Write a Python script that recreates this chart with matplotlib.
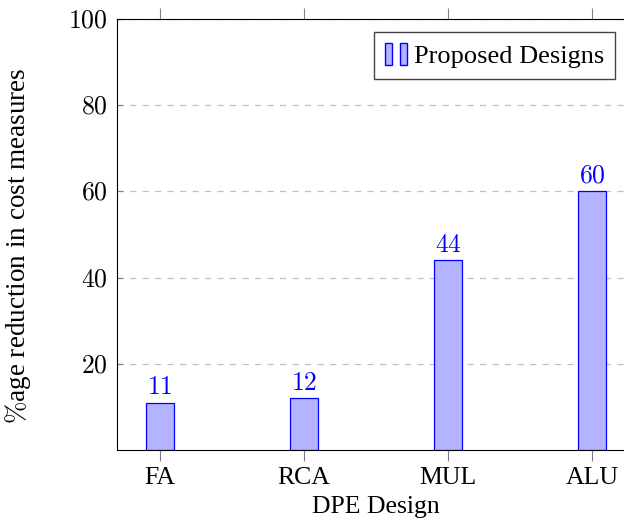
import numpy as np
import matplotlib.pyplot as plt
from matplotlib.patches import Rectangle
from matplotlib.legend_handler import HandlerTuple

designs = ['FA', 'RCA', 'MUL', 'ALU']
reduction = [11, 12, 44, 60]
yticks = [20, 40, 60, 80, 100]

plt.rcParams['font.family'] = ['Liberation Serif', 'DejaVu Serif']
plt.rcParams['mathtext.fontset'] = 'cm'

fs = 18.5
fig = plt.figure(figsize=(6.24, 5.2), dpi=100)
ax = fig.add_axes([0.1875, 0.1346, 0.83, 0.8289])

x = np.arange(len(designs))
fill = '#b3b3ff'
ax.bar(x, reduction, width=0.19, color=fill, edgecolor='blue', linewidth=0.9, zorder=3)
for xi, v in zip(x, reduction):
    ax.text(xi, v + 0.8, f'${v}$', ha='center', va='bottom', color='blue', fontsize=fs)

ax.set_xlim(-0.2986, 3.2986)
ax.set_ylim(0, 100)
ax.set_xticks(x)
ax.set_xticklabels(designs, fontsize=fs)
ax.set_yticks(yticks)
ax.set_yticklabels([f'${t}$' for t in yticks], fontsize=fs)
ax.tick_params(axis='x', direction='out', length=8, color='gray', top=True, pad=4)
ax.tick_params(axis='y', direction='in', length=4, color='gray', right=True, pad=7)
ax.grid(axis='y', color='#c0c0c0', linestyle=(0, (5, 5)), linewidth=0.9, zorder=0)

ax.set_xlabel('DPE Design', fontsize=fs, labelpad=5)
ax.set_ylabel(r'$\%$age reduction in cost measures', fontsize=19.5)
ax.yaxis.set_label_coords(-0.163, 0.475)

h = (Rectangle((0, 0), 1, 1, facecolor=fill, edgecolor='blue'),
     Rectangle((0, 0), 1, 1, facecolor=fill, edgecolor='blue'))
ax.legend([h], ['Proposed Designs'], handler_map={tuple: HandlerTuple(ndivide=2, pad=0.32)},
          loc='upper left', bbox_to_anchor=(0.497, 0.969), fontsize=19, fancybox=False,
          edgecolor='#444444', framealpha=1, handlelength=0.84, handleheight=0.9,
          handletextpad=0.27, borderpad=0.4, borderaxespad=0)

fig.savefig('out.png', dpi=100)
